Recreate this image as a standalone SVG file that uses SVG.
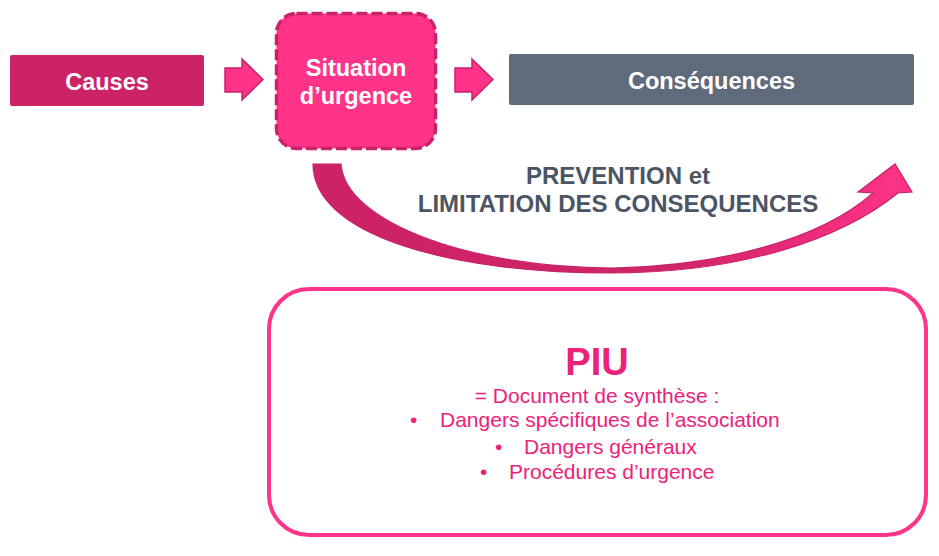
<svg xmlns="http://www.w3.org/2000/svg" width="939" height="556" viewBox="0 0 939 556">
  <style>
    .lbl { font-family: "Liberation Sans", Arial, sans-serif; font-weight: bold; fill: #ffffff; font-size: 23.5px; text-anchor: middle; }
    .mid { font-family: "Liberation Sans", Arial, sans-serif; font-weight: bold; fill: #4B5563; font-size: 24px; text-anchor: middle; }
    .piu { font-family: "Liberation Sans", Arial, sans-serif; fill: #EC2279; }
    .step { fill: #FF3388; stroke: #C8236A; stroke-width: 1.5; stroke-linejoin: miter; }
  </style>
  <defs>
    <linearGradient id="bend" gradientUnits="userSpaceOnUse" x1="313" y1="0" x2="912" y2="0">
      <stop offset="0" stop-color="#CC2266"/>
      <stop offset="0.6" stop-color="#CF2468"/>
      <stop offset="1" stop-color="#FF3388"/>
    </linearGradient>
  </defs>

  <rect width="939" height="556" fill="#ffffff"/>

  <g id="causes">
    <rect x="10" y="55" width="194" height="51" rx="2" fill="#CC2266"/>
    <text class="lbl" x="107" y="90">Causes</text>
  </g>

  <g id="situation">
    <rect x="276.5" y="13.5" width="159" height="135" rx="20" fill="#FF3388" stroke="#C8236A" stroke-width="3.5" stroke-dasharray="11 4"/>
    <text class="lbl" x="356" y="76">Situation</text>
    <text class="lbl" x="356" y="104">d’urgence</text>
  </g>

  <g id="consequences">
    <rect x="509" y="54" width="405" height="51" rx="2" fill="#5F6B7A"/>
    <text class="lbl" x="711.5" y="89">Conséquences</text>
  </g>

  <g id="connectors">
    <!-- block arrows between the top steps -->
    <path class="step" d="M225,68 H242 V59 L263,79.5 L242,100 V92 H225 Z"/>
    <path class="step" d="M455,68 H472 V59 L493,79.5 L472,100 V92 H455 Z"/>
    <!-- curved arrow under the steps -->
    <path d="M313,164 C313,235 450,273 610,273 C740,273 840,240 898,193 L912,192 L895,164 L858,192 L873,193 C820,240 720,266 613,268 C470,268 345,222 341,164 Z" fill="url(#bend)" stroke="#C8236A" stroke-width="1.2" stroke-linejoin="miter"/>
  </g>

  <g id="action">
    <text class="mid" x="618" y="184">PREVENTION et</text>
    <text class="mid" x="618" y="212">LIMITATION DES CONSEQUENCES</text>
  </g>

  <g id="piu">
    <rect x="269" y="289" width="657" height="246" rx="40" fill="#ffffff" stroke="#FF3388" stroke-width="4"/>
    <text class="piu" x="597" y="375" font-size="38" font-weight="bold" text-anchor="middle">PIU</text>
    <text class="piu" x="597" y="403" font-size="21" text-anchor="middle">= Document de synthèse :</text>
    <text class="piu" x="410" y="427" font-size="21">•</text>
    <text class="piu" x="440" y="427" font-size="21">Dangers spécifiques de l’association</text>
    <text class="piu" x="495" y="454" font-size="21">•</text>
    <text class="piu" x="524" y="454" font-size="21">Dangers généraux</text>
    <text class="piu" x="480" y="479" font-size="21">•</text>
    <text class="piu" x="509" y="479" font-size="21">Procédures d’urgence</text>
  </g>
</svg>
